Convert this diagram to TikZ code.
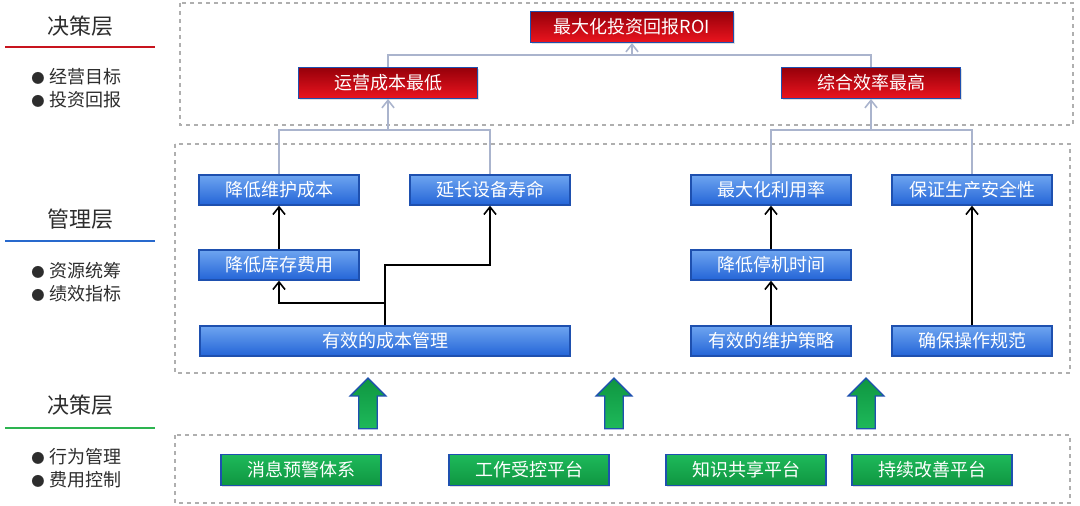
\documentclass[tikz,border=0pt]{standalone}
\usepackage{fontspec}
\setmainfont{Noto Sans CJK SC}
\usetikzlibrary{arrows.meta,positioning,shapes.arrows,shadows}
\definecolor{redtop}{RGB}{150,0,10}
\definecolor{redbot}{RGB}{235,20,30}
\definecolor{bluetop}{RGB}{110,165,240}
\definecolor{bluebot}{RGB}{35,100,215}
\definecolor{greentop}{RGB}{30,185,90}
\definecolor{greenbot}{RGB}{15,150,65}
\definecolor{edgeblue}{RGB}{30,80,175}
\definecolor{linkgrey}{RGB}{170,180,205}
\definecolor{framegrey}{RGB}{175,175,175}
\definecolor{txtgrey}{RGB}{45,45,45}
\newcommand{\dotitem}{{\fontsize{10}{10}\selectfont●}\hspace{4pt}}
\tikzset{
  box/.style={draw=edgeblue,line width=1pt,text=white,align=center,
              inner sep=2pt,font=\fontsize{13.5}{15}\selectfont,
              drop shadow={opacity=0.25,shadow xshift=1pt,shadow yshift=-1pt}},
  goalbox/.style={box,top color=redtop,bottom color=redbot,
                  minimum width=134pt,minimum height=23pt},
  mgmtbox/.style={box,top color=bluetop,bottom color=bluebot,
                  minimum width=120pt,minimum height=22.5pt},
  toolbox/.style={box,top color=greentop,bottom color=greenbot,
                  minimum width=120pt,minimum height=23pt},
  frame/.style={draw=framegrey,dashed,line width=0.8pt},
  glink/.style={draw=linkgrey,line width=1.2pt},
  garr/.style={glink,-{Straight Barb[length=2mm,width=3.2mm]}},
  barr/.style={draw=black,line width=1.2pt,-{Straight Barb[length=2mm,width=3.2mm]}},
  uparr/.style={single arrow,rotate=90,draw=edgeblue,line width=1pt,
                top color=greenbot,bottom color=greentop,inner sep=6.4pt,
                minimum height=38pt,single arrow head extend=6.5pt},
  head/.style={text=txtgrey,font=\fontsize{16.5}{18}\selectfont},
  bul/.style={text=txtgrey,align=left,anchor=west,inner sep=0pt,
              font=\fontsize{13.5}{17.5}\selectfont},
}
\begin{document}
\begin{tikzpicture}[x=0.75pt,y=-0.75pt]
  \useasboundingbox (0,0) rectangle (1080,506);

  % layer frames
  \draw[frame] (180,3) rectangle (1073,125);
  \draw[frame] (175,144) rectangle (1070,373);
  \draw[frame] (175,435) rectangle (1070,503);

  % left legend
  \node[head] (hdtop) at (80,26) {决策层};
  \draw[draw={rgb,255:red,200;green,20;blue,30},line width=2.2pt] (5,47) -- (155,47);
  \node[bul] (bltop) at (31,88) {\dotitem 经营目标\\\dotitem 投资回报};
  \node[head] (hdmid) at (80,219) {管理层};
  \draw[draw={rgb,255:red,40;green,105;blue,205},line width=2.2pt] (5,241) -- (155,241);
  \node[bul] (blmid) at (31,282) {\dotitem 资源统筹\\\dotitem 绩效指标};
  \node[head] (hdbot) at (80,405) {决策层};
  \draw[draw={rgb,255:red,45;green,180;blue,80},line width=2.2pt] (5,428) -- (155,428);
  \node[bul] (blbot) at (31,468) {\dotitem 行为管理\\\dotitem 费用控制};

  % goals
  \node[goalbox,minimum width=152pt] (roi) at (632,27) {最大化投资回报ROI};
  \node[goalbox] (lowcost) at (388,83) {运营成本最低};
  \node[goalbox] (higheff) at (871,83) {综合效率最高};

  % management
  \node[mgmtbox] (redmaint) at (279,190) {降低维护成本};
  \node[mgmtbox] (extlife)  at (490,190) {延长设备寿命};
  \node[mgmtbox] (maxuse)   at (771,190) {最大化利用率};
  \node[mgmtbox] (safety)   at (972,190) {保证生产安全性};
  \node[mgmtbox] (redstock) at (279,265) {降低库存费用};
  \node[mgmtbox] (reddown)  at (771,265) {降低停机时间};
  \node[mgmtbox,minimum width=277.5pt] (costmgmt) at (385,341) {有效的成本管理};
  \node[mgmtbox] (maintstrat) at (771,341) {有效的维护策略};
  \node[mgmtbox] (oprule)     at (972,341) {确保操作规范};

  % tools
  \node[toolbox] (msgwarn)   at (301,470) {消息预警体系};
  \node[toolbox] (workctl)   at (529,470) {工作受控平台};
  \node[toolbox] (knowshare) at (746,470) {知识共享平台};
  \node[toolbox] (improve)   at (932,470) {持续改善平台};

  \node[uparr] (up1) at (368,408) {};
  \node[uparr] (up2) at (614,408) {};
  \node[uparr] (up3) at (866,408) {};

  % grey links to goals
  \coordinate (jl) at (388,130);
  \coordinate (jr) at (871,130);
  \coordinate (jt) at (632,55);
  \draw[glink] (redmaint.north) |- (jl) -| (extlife.north);
  \draw[garr] (jl) -- (lowcost.south);
  \draw[glink] (maxuse.north) |- (jr) -| (safety.north);
  \draw[garr] (jr) -- (higheff.south);
  \draw[glink] (lowcost.north) |- (jt) -| (higheff.north);
  \draw[garr] (jt) -- (roi.south);

  % black links
  \coordinate (k1) at (385,303);
  \coordinate (k2) at (385,265);
  \draw[barr] (redstock) -- (redmaint);
  \draw[barr] (costmgmt.north) -- (k1) -| (redstock.south);
  \draw[barr] (k1) -- (k2) -| (extlife.south);
  \draw[barr] (reddown) -- (maxuse);
  \draw[barr] (maintstrat) -- (reddown);
  \draw[barr] (oprule) -- (safety);
\end{tikzpicture}
\end{document}
